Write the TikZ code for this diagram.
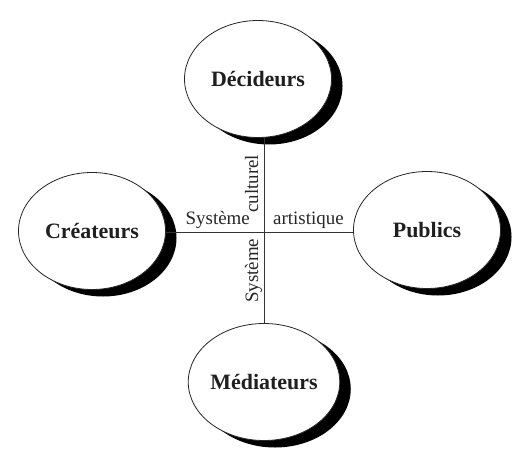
\documentclass[tikz,border=0pt]{standalone}
\usepackage{fontspec}
\setmainfont{Liberation Serif}
\usetikzlibrary{shapes.geometric,shadows}

\tikzset{
  pole/.style={ellipse, draw=black!85, line width=0.8bp, fill=white,
    minimum width=147bp, minimum height=117bp, inner sep=0pt,
    font=\fontsize{22}{26}\selectfont\bfseries, text=black!88,
    drop shadow={shadow xshift=11bp, shadow yshift=-7bp, fill=black, opacity=1}},
  lien/.style={draw=black!80, line width=1bp},
  axe/.style={font=\fontsize{19}{22}\selectfont, text=black!85, inner sep=0pt}
}

\begin{document}
\begin{tikzpicture}[x=1bp, y=-1bp]
  \useasboundingbox[fill=white] (0,0) rectangle (515,450);

  % Draw the four poles
  \node[pole] (dec) at (258,79) {Décideurs};
  \node[pole] (cre) at (92,231) {Créateurs};
  \node[pole] (pub) at (427,230) {Publics};
  \node[pole] (med) at (264,382) {Médiateurs};

  % Crossing of the two axes
  \coordinate (c) at (264,233);

  % Draw connections
  \draw[lien] (c |- dec.south) -- (c |- med.north);
  \draw[lien] (cre.east |- c) -- (pub.west |- c);

  % Labels along the axes
  \node[axe, anchor=base east] (sysH) at (250,225) {Système};
  \node[axe, anchor=base west] (art) at (273,225) {artistique};
  \node[axe, rotate=90, anchor=base west] (cult) at (258,213) {culturel};
  \node[axe, rotate=90, anchor=base west] (sysV) at (258,303) {Système};
\end{tikzpicture}
\end{document}
